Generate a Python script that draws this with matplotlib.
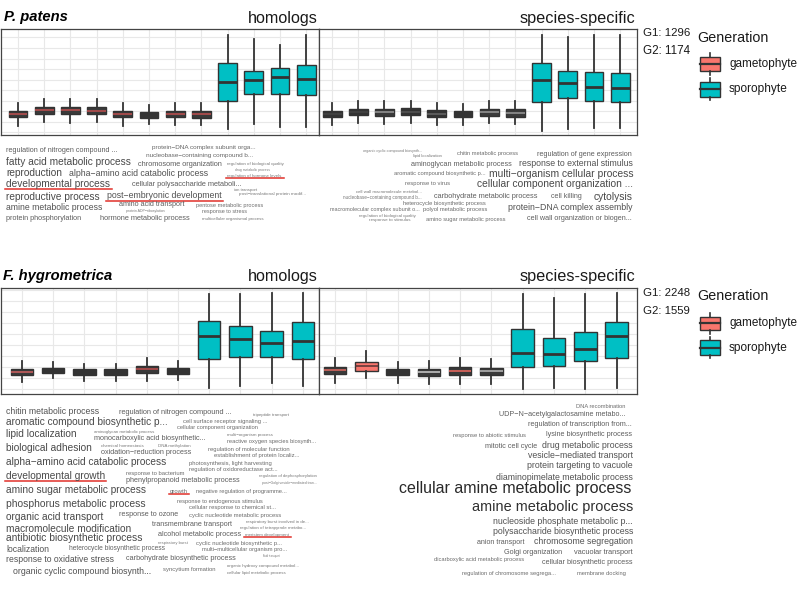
import numpy as np
import matplotlib
matplotlib.use('Agg')
import matplotlib.pyplot as plt
from matplotlib.patches import Rectangle

plt.rcParams['font.family'] = ['Liberation Sans', 'DejaVu Sans']

# box stats: (whisker low, q1, median, q3, whisker high)
pp_homologs = [
    (0.93, 1.77, 2.07, 2.40, 3.17), (1.30, 2.13, 2.47, 2.77, 3.57),
    (1.23, 2.13, 2.50, 2.80, 3.63), (1.30, 2.10, 2.43, 2.77, 3.57),
    (0.93, 1.77, 2.07, 2.43, 3.17), (1.10, 1.73, 2.03, 2.33, 2.97),
    (0.97, 1.77, 2.10, 2.43, 3.17), (1.03, 1.73, 2.07, 2.40, 3.17),
    (0.57, 3.37, 5.33, 7.17, 10.03), (1.10, 4.07, 5.47, 6.40, 9.57),
    (0.83, 4.13, 5.77, 6.67, 9.00), (0.80, 4.00, 5.57, 7.00, 9.97),
]
pp_specific = [
    (1.00, 1.77, 2.10, 2.43, 3.17), (1.23, 1.97, 2.30, 2.63, 3.37),
    (1.10, 1.90, 2.27, 2.63, 3.43), (1.23, 2.00, 2.33, 2.67, 3.43),
    (1.03, 1.80, 2.13, 2.47, 3.17), (1.03, 1.77, 2.10, 2.43, 3.10),
    (1.17, 1.93, 2.30, 2.63, 3.43), (1.10, 1.83, 2.20, 2.57, 3.37),
    (0.43, 3.33, 5.47, 7.17, 10.03), (0.57, 3.73, 5.17, 6.37, 9.77),
    (0.70, 3.43, 4.83, 6.27, 10.03), (0.67, 3.30, 4.70, 6.23, 10.03),
]
fh_homologs = [
    (1.20, 1.87, 2.20, 2.50, 3.27), (1.63, 2.10, 2.40, 2.63, 3.20),
    (1.33, 1.90, 2.20, 2.47, 3.00), (1.27, 1.87, 2.17, 2.47, 3.03),
    (1.30, 2.10, 2.47, 2.80, 3.60), (1.40, 2.03, 2.33, 2.63, 3.30),
    (0.57, 3.53, 5.83, 7.30, 9.97), (0.80, 3.70, 5.47, 6.80, 9.97),
    (1.07, 3.70, 5.10, 6.33, 10.07), (0.77, 3.47, 5.30, 7.17, 10.13),
]
fh_specific = [
    (1.13, 1.97, 2.37, 2.73, 3.57), (1.57, 2.27, 2.77, 3.17, 4.27),
    (1.13, 1.87, 2.20, 2.53, 3.23), (0.97, 1.80, 2.17, 2.50, 3.33),
    (0.97, 1.87, 2.27, 2.67, 3.57), (1.00, 1.87, 2.27, 2.60, 3.47),
    (0.47, 2.73, 4.10, 6.50, 9.97), (0.63, 2.80, 3.97, 5.60, 9.57),
    (0.53, 3.30, 4.53, 6.17, 9.97), (0.60, 3.57, 5.83, 7.20, 10.07),
]
pp_counts = ["G1: 1296", "G2: 1174"]
fh_counts = ["G1: 2248", "G2: 1559"]

# GO term word clouds
pp_hom_terms = [
    "regulation of nitrogen compound ...", "protein−DNA complex subunit orga...",
    "nucleobase−containing compound b...", "fatty acid metabolic process",
    "chromosome organization", "regulation of biological quality",
    "drug metabolic process", "reproduction", "alpha−amino acid catabolic process",
    "regulation of hormone levels", "developmental process",
    "cellular polysaccharide metaboli...", "ion transport",
    "post−translational protein modif...", "reproductive process",
    "post−embryonic development", "amino acid transport", "pentose metabolic process",
    "amine metabolic process", "protein ADP−ribosylation", "response to stress",
    "protein phosphorylation", "hormone metabolic process",
    "multicellular organismal process",
]
pp_spec_terms = [
    "organic cyclic compound biosynth...", "lipid localization",
    "chitin metabolic process", "regulation of gene expression",
    "aminoglycan metabolic process", "response to external stimulus",
    "aromatic compound biosynthetic p...", "multi−organism cellular process",
    "response to virus", "cellular component organization ...",
    "cell wall macromolecule metabol...", "nucleobase−containing compound b...",
    "carbohydrate metabolic process", "cell killing", "cytolysis",
    "heterocycle biosynthetic process", "macromolecular complex subunit o...",
    "polyol metabolic process", "protein−DNA complex assembly",
    "regulation of biological quality", "response to stimulus",
    "amino sugar metabolic process", "cell wall organization or biogen...",
]
fh_hom_terms = [
    "chitin metabolic process", "regulation of nitrogen compound ...",
    "tripeptide transport", "aromatic compound biosynthetic p...",
    "cell surface receptor signaling ...", "cellular component organization",
    "lipid localization", "aminoglycan metabolic process", "multi−organism process",
    "monocarboxylic acid biosynthetic...", "reactive oxygen species biosynth...",
    "biological adhesion", "chemical homeostasis", "DNA methylation",
    "regulation of molecular function", "oxidation−reduction process",
    "establishment of protein localiz...", "alpha−amino acid catabolic process",
    "photosynthesis, light harvesting", "regulation of oxidoreductase act...",
    "regulation of dephosphorylation", "developmental growth", "response to bacterium",
    "phenylpropanoid metabolic process", "post−Golgi vesicle−mediated tran...",
    "amino sugar metabolic process", "growth", "negative regulation of programme...",
    "phosphorus metabolic process", "response to endogenous stimulus",
    "cellular response to chemical st...", "organic acid transport", "response to ozone",
    "cyclic nucleotide metabolic process", "respiratory burst involved in de...",
    "macromolecule modification", "transmembrane transport",
    "regulation of tetrapyrrole metabo...", "antibiotic biosynthetic process",
    "alcohol metabolic process", "meristem development", "respiratory burst",
    "cyclic nucleotide biosynthetic p...", "localization",
    "heterocycle biosynthetic process", "multi−multicellular organism pro...",
    "fluid transport", "response to oxidative stress",
    "carbohydrate biosynthetic process", "organic hydroxy compound metabol...",
    "organic cyclic compound biosynth...", "syncytium formation",
    "cellular lipid metabolic process",
]
fh_spec_terms = [
    "DNA recombination", "UDP−N−acetylgalactosamine metabo...",
    "regulation of transcription from...", "response to abiotic stimulus",
    "lysine biosynthetic process", "mitotic cell cycle", "drug metabolic process",
    "vesicle−mediated transport", "protein targeting to vacuole",
    "diaminopimelate metabolic process", "cellular amine metabolic process",
    "amine metabolic process", "nucleoside phosphate metabolic p...",
    "polysaccharide biosynthetic process", "anion transport", "chromosome segregation",
    "Golgi organization", "vacuolar transport", "dicarboxylic acid metabolic process",
    "cellular biosynthetic process", "regulation of chromosome segrega...",
    "membrane docking",
]
marked_terms = {"regulation of hormone levels", "developmental process",
                "post−embryonic development", "developmental growth", "growth",
                "meristem development"}

# word cloud layout in pixels: (left, right, y centre)
pp_hom_pos = [(6, 118, 151), (152, 257, 148), (146, 253, 156), (6, 132, 162),
              (138, 223, 164), (227, 285, 164), (235, 270, 170), (6, 63, 173),
              (69, 208, 174), (227, 283, 176), (6, 111, 184), (132, 243, 184),
              (234, 258, 189.5), (239, 305, 194), (6, 100, 197), (107, 222, 196),
              (119, 185, 204), (196, 263, 206), (6, 102, 208), (126, 165, 211),
              (202, 247, 212), (6, 82, 218), (100, 191, 218), (202, 265, 219)]
pp_spec_pos = [(363, 423, 151), (413, 443, 156), (457, 519, 154), (537, 633, 154),
               (411, 513, 164), (519, 633, 163), (394, 487, 174), (489, 633, 174),
               (405, 450, 183), (477, 633, 184), (356, 423, 192), (343, 422, 197),
               (434, 538, 196), (551, 582, 196), (594, 633, 197), (403, 487, 203),
               (330, 420, 210), (423, 487, 210), (508, 633, 208), (359, 417, 216),
               (369, 410, 220), (426, 506, 219), (527, 633, 218)]
fh_hom_pos = [(6, 99, 411), (119, 233, 412), (253, 290, 415), (6, 169, 422),
              (183, 267, 422), (177, 259, 428), (6, 77, 434), (94, 156, 432),
              (227, 274, 435), (94, 207, 439), (227, 317, 442), (6, 93, 448),
              (101, 144, 446), (158, 191, 446), (208, 291, 449), (101, 192, 452),
              (214, 299, 455), (6, 168, 462), (189, 271, 463), (189, 277, 469),
              (259, 318, 476), (6, 105, 476), (126, 184, 473), (126, 241, 480),
              (262, 318, 483), (6, 147, 490), (170, 188, 491), (196, 287, 491),
              (6, 145, 504), (177, 264, 501), (189, 276, 508), (6, 104, 517),
              (119, 179, 514), (189, 281, 515), (246, 309, 522), (6, 133, 529),
              (152, 233, 525), (240, 308, 528), (6, 143, 538), (158, 242, 535),
              (245, 290, 535), (158, 188, 543), (196, 281, 543), (6, 49, 550),
              (69, 166, 549), (202, 289, 550), (263, 280, 556), (6, 114, 559),
              (126, 237, 559), (227, 301, 566), (13, 151, 571), (163, 216, 570),
              (227, 287, 573)]
fh_spec_pos = [(576, 626, 407), (499, 626, 415), (528, 633, 425), (453, 525, 435),
               (546, 633, 435), (485, 538, 446), (542, 633, 445), (528, 633, 456),
               (527, 633, 466), (496, 633, 477), (399, 633, 489), (472, 633, 507),
               (493, 633, 521), (493, 633, 532), (477, 525, 543), (534, 633, 542),
               (504, 563, 553), (574, 633, 553), (434, 525, 559), (542, 633, 563),
               (462, 557, 573), (577, 626, 573)]

SALMON = '#F8766D'
CYAN = '#00BFC4'
DARK = '#333333'

# fill / median colours of the small gametophyte boxes as they appear
pp_hom_style = [('#3a3a3a', '#c05050')] * 5 + [('#333333', '#333333')] + [('#3a3a3a', '#c05050')] * 2
pp_spec_style = [('#333333', '#444444'), ('#333333', '#444444'), ('#3a3a3a', '#999999'),
                 ('#333333', '#555555'), ('#333333', '#666666'), ('#333333', '#333333'),
                 ('#3a3a3a', '#999999'), ('#3a3a3a', '#999999')]
fh_hom_style = [('#3a3a3a', '#d06060'), ('#333333', '#333333'), ('#333333', '#333333'),
                ('#333333', '#333333'), ('#3a3a3a', '#c05050'), ('#333333', '#333333')]
fh_spec_style = [('#3a3a3a', '#e06a60'), (SALMON, '#553333'), ('#333333', '#333333'),
                 ('#3a3a3a', '#cccccc'), ('#3a3a3a', '#f06a60'), ('#3a3a3a', '#bbbbbb')]

W, H = 800, 591
fig = plt.figure(figsize=(W / 100, H / 100), dpi=100)
fig.patch.set_facecolor('white')


def px_axes(x0, x1, ytop, ybot):
    return fig.add_axes([x0 / W, 1 - ybot / H, (x1 - x0) / W, (ybot - ytop) / H])


def draw_facet(ax, stats, small_style, xlim, gridy):
    n = len(stats)
    bx = []
    for lo, q1, med, q3, hi in stats:
        bx.append(dict(whislo=lo, q1=q1, med=med, q3=q3, whishi=hi, fliers=[]))
    art = ax.bxp(bx, positions=np.arange(1, n + 1), widths=0.72, patch_artist=True,
                 showfliers=False, showcaps=False,
                 boxprops=dict(edgecolor=DARK, linewidth=1.0),
                 whiskerprops=dict(color=DARK, linewidth=1.3),
                 medianprops=dict(color=DARK, linewidth=2.0))
    ns = len(small_style)
    for i, box in enumerate(art['boxes']):
        if i < ns:
            face, medc = small_style[i]
            box.set_facecolor(face)
            art['medians'][i].set_color(medc)
            art['medians'][i].set_linewidth(1.1)
        else:
            box.set_facecolor(CYAN)
    ax.set_xlim(*xlim)
    ax.set_ylim(0, 10.6)
    ax.set_xticks(np.arange(1, n + 1))
    ax.set_yticks(gridy)
    ax.tick_params(length=0, labelbottom=False, labelleft=False)
    ax.grid(True, color='#e8e8e8', linewidth=0.8)
    ax.set_axisbelow(True)
    for sp in ax.spines.values():
        sp.set_color('#444444')
        sp.set_linewidth(0.9)


grid_top = np.arange(0.3, 10.6, 1.05)
grid_bot = np.arange(0.5, 10.6, 1.1)

ax1 = px_axes(1, 319, 29, 135)
draw_facet(ax1, pp_homologs, pp_hom_style, (0.35, 12.49), grid_top)
ax2 = px_axes(319, 637, 29, 135)
draw_facet(ax2, pp_specific, pp_spec_style, (0.5, 12.64), grid_top)
ax3 = px_axes(1, 319, 288, 394)
draw_facet(ax3, fh_homologs, fh_hom_style, (0.33, 10.52), grid_bot)
ax4 = px_axes(319, 637, 288, 394)
draw_facet(ax4, fh_specific, fh_spec_style, (0.49, 10.65), grid_bot)

# overlay in pixel coordinates for all the text
ov = fig.add_axes([0, 0, 1, 1])
ov.set_xlim(0, W)
ov.set_ylim(H, 0)
ov.axis('off')
ov.patch.set_visible(False)
renderer = fig.canvas.get_renderer()


def put(s, x0, x1, y, color=None, **kw):
    t = ov.text(x0, y, s, fontsize=10, ha='left', va='center', **kw)
    w = t.get_window_extent(renderer).width
    fs = 10 * (x1 - x0) / w
    t.set_fontsize(fs)
    if color is None:
        g = np.interp(fs, [3, 6, 10, 14], [0.48, 0.33, 0.2, 0.1])
        color = (g, g, g)
    t.set_color(color)
    return t


def cloud(terms, pos):
    for s, (x0, x1, y) in zip(terms, pos):
        t = put(s, x0, x1, y)
        if s in marked_terms:
            bb = t.get_window_extent(renderer)
            yb = H - bb.y0 + 0.3
            ov.plot([x0 - 1, x1 + 1], [yb, yb], color='#e0302a', linewidth=1.1)


cloud(pp_hom_terms, pp_hom_pos)
cloud(pp_spec_terms, pp_spec_pos)
cloud(fh_hom_terms, fh_hom_pos)
cloud(fh_spec_terms, fh_spec_pos)

# panel titles
put("P. patens", 4, 68, 17, color='black', fontweight='bold', fontstyle='italic')
put("F. hygrometrica", 3, 112, 276, color='black', fontweight='bold', fontstyle='italic')
for yy in (18, 277):
    put("homologs", 248, 318, yy, color='#1a1a1a')
    put("species-specific", 520, 635, yy, color='#1a1a1a')


def legend(counts, y_g1, y_title, key1, key2):
    put(counts[0], 643, 690, y_g1, color='#1a1a1a')
    put(counts[1], 643, 690, y_g1 + 18, color='#1a1a1a')
    put("Generation", 697, 768, y_title, color='#1a1a1a')
    for (top, bot, med, lo, hi), col, lab, lw in [(key1, SALMON, "gametophyte", 797),
                                                   (key2, CYAN, "sporophyte", 788)]:
        ov.plot([710, 710], [lo, top], color=DARK, linewidth=1.2)
        ov.plot([710, 710], [bot, hi], color=DARK, linewidth=1.2)
        ov.add_patch(Rectangle((700, top), 20, bot - top, facecolor=col,
                               edgecolor=DARK, linewidth=1.0))
        ov.plot([700, 720], [med, med], color=DARK, linewidth=1.6)
        put(lab, 729, lw, med, color='#1a1a1a')


legend(pp_counts, 33, 38, (57.3, 70.7, 64, 53, 75), (81.7, 96.7, 89.3, 78, 100))
legend(fh_counts, 293, 296, (316.7, 330, 323.3, 312.7, 334), (340, 355, 348.3, 336.7, 358.3))

fig.savefig('out.png', dpi=100, facecolor='white')
